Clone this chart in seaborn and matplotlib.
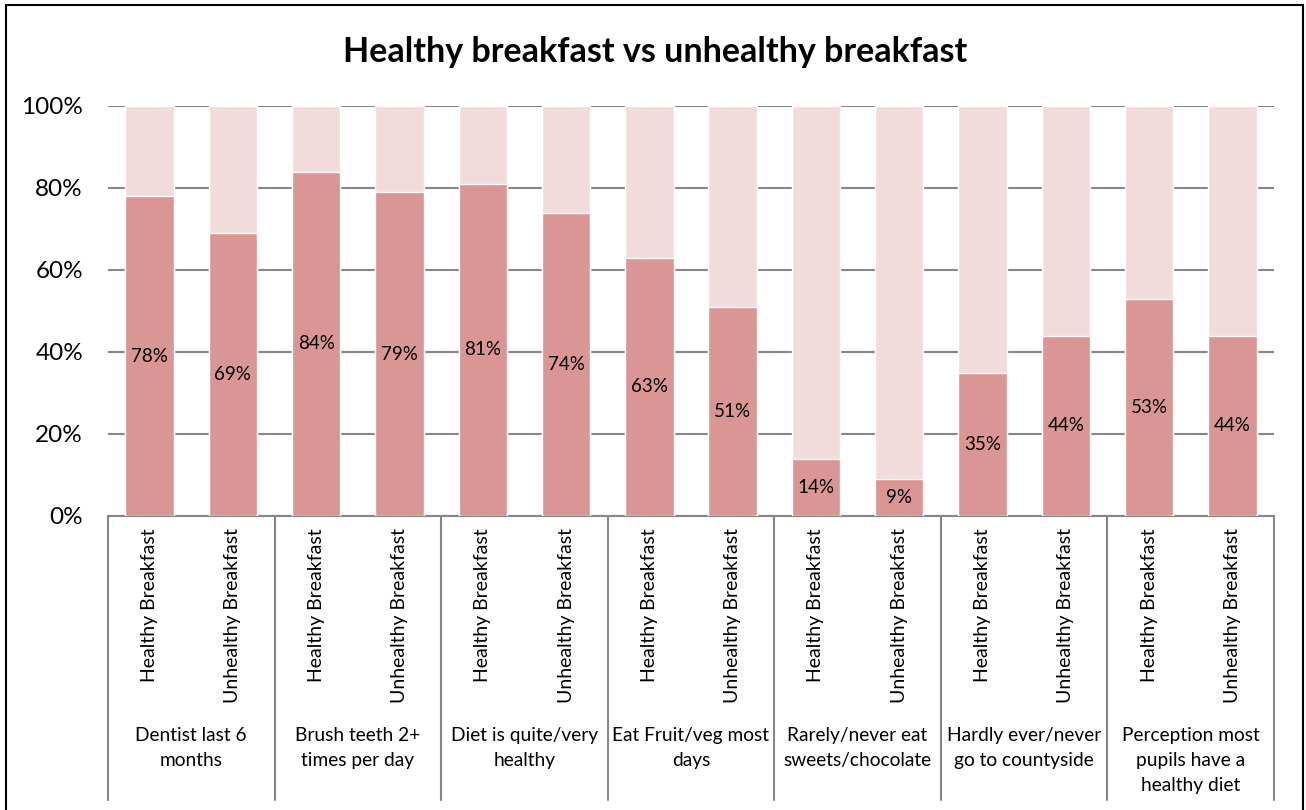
import matplotlib
matplotlib.use("Agg")

import pandas as pd
import matplotlib.pyplot as plt
import matplotlib.transforms as mtransforms
import seaborn as sns

# ===============================
# Data
# ===============================
groups = [
    "Dentist last 6\nmonths",
    "Brush teeth 2+\ntimes per day",
    "Diet is quite/very\nhealthy",
    "Eat Fruit/veg most\ndays",
    "Rarely/never eat\nsweets/chocolate",
    "Hardly ever/never\ngo to countyside",
    "Perception most\npupils have a\nhealthy diet",
]
breakfast_types = ["Healthy Breakfast", "Unhealthy Breakfast"]
healthy_values = [78, 84, 81, 63, 14, 35, 53]
unhealthy_values = [69, 79, 74, 51, 9, 44, 44]

rows = []
for g, hv, uv in zip(groups, healthy_values, unhealthy_values):
    for bt, v in zip(breakfast_types, [hv, uv]):
        rows.append({"group": g, "type": bt, "value": v})
df = pd.DataFrame(rows)
df["slot"] = [f"{i}" for i in range(len(df))]
df["total"] = 100

sns.set_style("white")
plt.rcParams["font.family"] = ["Lato", "DejaVu Sans"]
plt.rcParams["text.color"] = "black"
plt.rcParams["ytick.color"] = "black"

dark = "#D99694"
light = "#F2DCDB"
grid_c = "#868686"

W, H = 1306, 810
fig = plt.figure(figsize=(W / 100, H / 100), dpi=100)
ax = fig.add_axes([108 / W, (H - 516) / H, (1274 - 108) / W, (516 - 106) / H])

sns.barplot(data=df, x="slot", y="total", color=light, width=0.58,
            saturation=1, ax=ax, zorder=2)
sns.barplot(data=df, x="slot", y="value", color=dark, width=0.58,
            saturation=1, ax=ax, zorder=3)

ax.set_ylim(0, 100)
ax.set_xlim(-0.5, len(df) - 0.5)
ax.set_yticks(range(0, 101, 20))
ax.set_yticklabels([f"{t}%" for t in range(0, 101, 20)], fontsize=17.5)
ax.tick_params(axis="y", length=0, pad=18)
ax.set_xticks([])
ax.set_xlabel("")
ax.set_ylabel("")
ax.yaxis.grid(True, color=grid_c, linewidth=1.5, zorder=0)
ax.set_axisbelow(True)
for s in ["left", "right", "top"]:
    ax.spines[s].set_visible(False)
ax.spines["bottom"].set_color(grid_c)
ax.spines["bottom"].set_linewidth(1.5)

# data labels centred in the dark segment
for i, v in enumerate(df["value"]):
    ax.text(i, v / 2, f"{v}%", ha="center", va="center", fontsize=13.5,
            zorder=4)

# multi-level category axis
trans = mtransforms.blended_transform_factory(ax.transData, ax.transAxes)
for i, t in enumerate(df["type"]):
    ax.text(i, -0.03, t, rotation=90, ha="center", va="top", fontsize=14,
            transform=trans, clip_on=False)
for k, g in enumerate(groups):
    ax.text(2 * k + 0.5, -0.515, g, ha="center", va="top", fontsize=13.8,
            linespacing=1.55, transform=trans, clip_on=False)
for k in range(len(groups) + 1):
    ax.plot([2 * k - 0.5, 2 * k - 0.5], [0, -0.693], color=grid_c,
            linewidth=1.5, transform=trans, clip_on=False)

fig.text(655 / W, 1 - 52 / H, "Healthy breakfast vs unhealthy breakfast",
         ha="center", va="center", fontsize=24.5, fontweight="bold")

# outer chart border
fig.patches.append(plt.Rectangle((6 / W, -0.02), (1303 - 6) / W, 1 - 5 / H + 0.02,
                                 transform=fig.transFigure, fill=False,
                                 edgecolor="black", linewidth=1.5))

plt.savefig("out.png", dpi=100)
plt.close()
